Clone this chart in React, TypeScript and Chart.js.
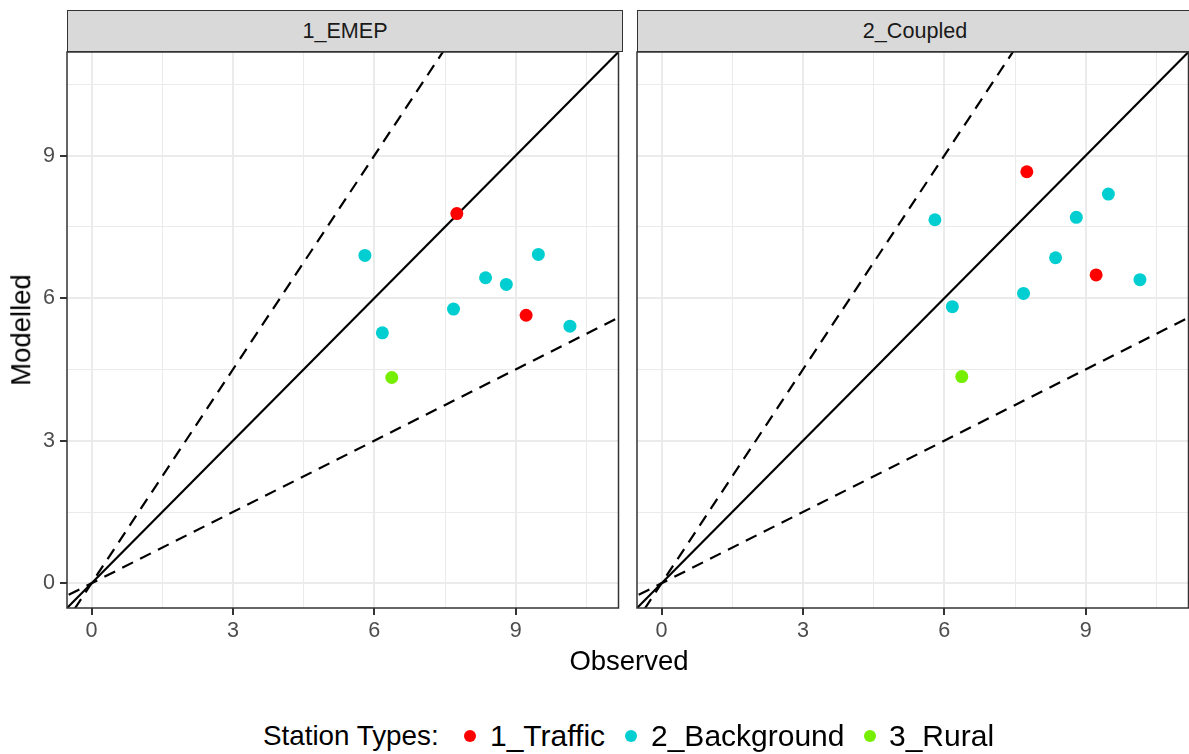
import React, { useEffect, useRef } from "react";
import { Chart, registerables } from "chart.js";

Chart.register(...registerables);

// ---- data ----
const panels = ["1_EMEP", "2_Coupled"];
const typeNames = ["1_Traffic", "2_Background", "3_Rural"];
const observed = [5.8, 6.17, 6.37, 7.68, 7.75, 8.36, 8.8, 9.22, 9.48, 10.15];
const stationType = [
  "2_Background", "2_Background", "3_Rural", "2_Background", "1_Traffic",
  "2_Background", "2_Background", "1_Traffic", "2_Background", "2_Background",
];
const modelledEMEP = [6.9, 5.27, 4.33, 5.77, 7.78, 6.43, 6.29, 5.64, 6.92, 5.41];
const modelledCoupled = [7.65, 5.82, 4.35, 6.1, 8.66, 6.85, 7.7, 6.49, 8.19, 6.39];
const tickValues = [0, 1.5, 3, 4.5, 6, 7.5, 9, 10.5];
const refSlopes = [1, 1.5, 0.5];
const axisMin = -0.52;
const axisMax = 11.18;

// ---- style ----
const FONT = '"Liberation Sans", Arial, Helvetica, sans-serif';
const typeColors = ["#FF0000", "#00CED1", "#76EE00"];
const isMajor = (v: number) => Math.abs(v % 3) < 1e-9;

const borderPlugin = {
  id: "panelBorder",
  afterDraw(chart: any) {
    const { ctx, chartArea } = chart;
    ctx.save();
    ctx.strokeStyle = "#333333";
    ctx.lineWidth = 1.5;
    ctx.strokeRect(chartArea.left, chartArea.top, chartArea.right - chartArea.left, chartArea.bottom - chartArea.top);
    ctx.restore();
  },
};

function axisCommon(showLabels: boolean, fitSize: number, horizontal: boolean) {
  return {
    type: "linear" as const,
    min: axisMin,
    max: axisMax,
    afterBuildTicks: (s: any) => {
      s.ticks = tickValues.map((v) => ({ value: v }));
    },
    afterFit: (s: any) => {
      if (horizontal) s.height = fitSize;
      else s.width = fitSize;
    },
    ticks: {
      display: showLabels,
      autoSkip: false,
      maxRotation: 0,
      padding: horizontal ? 3 : 5,
      color: "#4D4D4D",
      font: { family: FONT, size: 21.6 },
      callback: (v: any) => (isMajor(Number(v)) ? String(v) : ""),
    },
    grid: {
      color: "#EBEBEB",
      lineWidth: (c: any) => (c.tick && isMajor(c.tick.value) ? 2 : 1),
      drawTicks: showLabels,
      tickLength: 7,
      tickWidth: 2,
      tickColor: (c: any) => (c.tick && isMajor(c.tick.value) ? "#333333" : "rgba(0,0,0,0)"),
    },
    border: { display: false },
  };
}

function Panel({ values, showY, left, width, height, padRight, yWidth }: any) {
  const ref = useRef<HTMLCanvasElement>(null);
  useEffect(() => {
    if (!ref.current) return;
    const lineSets = refSlopes.map((m) => ({
      type: "scatter" as const,
      data: [
        { x: -2, y: -2 * m },
        { x: 30, y: 30 * m },
      ],
      showLine: true,
      borderColor: "#000000",
      borderWidth: 2.2,
      borderDash: m === 1 ? [] : [12, 8],
      pointRadius: 0,
      clip: 0,
      order: 2,
    }));
    const pointSets = typeNames.map((t, ti) => ({
      type: "scatter" as const,
      data: observed
        .map((x, i) => ({ x, y: values[i], t: stationType[i] }))
        .filter((p) => p.t === t)
        .map((p) => ({ x: p.x, y: p.y })),
      backgroundColor: typeColors[ti],
      borderWidth: 0,
      pointRadius: 6.5,
      order: 1,
    }));
    const chart = new Chart(ref.current, {
      type: "scatter",
      data: { datasets: [...pointSets, ...lineSets] as any },
      options: {
        responsive: false,
        animation: false,
        devicePixelRatio: 1,
        layout: { padding: { top: 52, right: padRight, left: 0, bottom: 0 } },
        plugins: { legend: { display: false }, tooltip: { enabled: false } },
        scales: {
          x: axisCommon(true, height - 608, true) as any,
          y: axisCommon(showY, yWidth, false) as any,
        },
      },
      plugins: [borderPlugin],
    });
    return () => chart.destroy();
  }, []);
  return (
    <canvas
      ref={ref}
      width={width}
      height={height}
      style={{ position: "absolute", left, top: 0, width, height }}
    />
  );
}

function Strip({ label, left, width }: any) {
  return (
    <div
      style={{
        position: "absolute",
        left,
        top: 10,
        width,
        height: 42,
        boxSizing: "border-box",
        background: "#D9D9D9",
        border: "1.5px solid #333333",
        display: "flex",
        alignItems: "center",
        justifyContent: "center",
        fontFamily: FONT,
        fontSize: 21.6,
        color: "#1A1A1A",
        lineHeight: 1,
      }}
    >
      {label}
    </div>
  );
}

const legendDots = [470, 631, 870];
const legendLabelLeft = [490, 651, 889];

export default function App() {
  return (
    <div
      style={{
        position: "fixed",
        left: 0,
        top: 0,
        width: 1189,
        height: 754,
        overflow: "hidden",
        background: "#ffffff",
        fontFamily: FONT,
      }}
    >
      <Panel values={modelledEMEP} showY={true} left={0} width={625} height={660} padRight={3} yWidth={67} />
      <Panel values={modelledCoupled} showY={false} left={630} width={565} height={660} padRight={3} yWidth={7} />
      <Strip label={panels[0]} left={67} width={556} />
      <Strip label={panels[1]} left={637} width={556} />
      <div
        style={{
          position: "absolute",
          left: 21,
          top: 330,
          transform: "translate(-50%, -50%) rotate(-90deg)",
          fontSize: 27.5,
          lineHeight: 1,
          whiteSpace: "nowrap",
          color: "#000",
        }}
      >
        Modelled
      </div>
      <div
        style={{
          position: "absolute",
          left: 629,
          top: 661,
          transform: "translate(-50%, -50%)",
          fontSize: 27.5,
          lineHeight: 1,
          whiteSpace: "nowrap",
          color: "#000",
        }}
      >
        Observed
      </div>
      <div
        style={{
          position: "absolute",
          left: 263,
          top: 736,
          transform: "translate(0, -50%)",
          fontSize: 27.8,
          lineHeight: 1,
          whiteSpace: "nowrap",
          color: "#000",
        }}
      >
        Station Types:
      </div>
      {typeNames.map((t, i) => (
        <React.Fragment key={t}>
          <div
            style={{
              position: "absolute",
              left: legendDots[i] - 6,
              top: 736 - 6,
              width: 12,
              height: 12,
              borderRadius: "50%",
              background: typeColors[i],
            }}
          />
          <div
            style={{
              position: "absolute",
              left: legendLabelLeft[i],
              top: 736,
              transform: "translate(0, -50%)",
              fontSize: 30,
              lineHeight: 1,
              whiteSpace: "nowrap",
              color: "#000",
            }}
          >
            {t}
          </div>
        </React.Fragment>
      ))}
    </div>
  );
}
